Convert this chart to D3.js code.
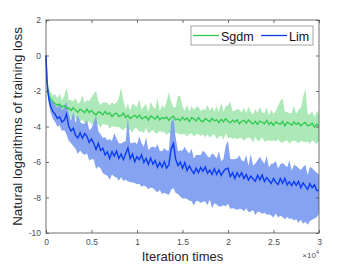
<!DOCTYPE html>
<html>
<head>
<meta charset="utf-8">
<script src="https://cdn.jsdelivr.net/npm/d3@7"></script>
<style>
  body { margin: 0; background: #fff; }
  text { font-family: "Liberation Sans", Arial, sans-serif; }
</style>
</head>
<body>
<div id="chart"></div>
<script>
// iterations (x)
var iters = [0, 100, 200, 300, 500, 750, 1000, 1250, 1500, 1750, 2000, 2250, 2500, 2750, 3000, 3250, 3500, 3750, 4000, 4250,
  4500, 4750, 5000, 5250, 5500, 5750, 6000, 6250, 6500, 6750, 7000, 7250, 7500, 7750, 8000, 8250, 8500, 8750, 9000, 9250,
  9500, 9750, 10000, 10250, 10500, 10750, 11000, 11250, 11500, 11750, 12000, 12250, 12500, 12750, 13000, 13250, 13500, 13750, 14000, 14250,
  14500, 14750, 15000, 15250, 15500, 15750, 16000, 16250, 16500, 16750, 17000, 17250, 17500, 17750, 18000, 18250, 18500, 18750, 19000, 19250,
  19500, 19750, 20000, 20250, 20500, 20750, 21000, 21250, 21500, 21750, 22000, 22250, 22500, 22750, 23000, 23250, 23500, 23750, 24000, 24250,
  24500, 24750, 25000, 25250, 25500, 25750, 26000, 26250, 26500, 26750, 27000, 27250, 27500, 27750, 28000, 28250, 28500, 28750, 29000, 29250,
  29500, 29750, 30000];

// Sgdm: mean and shaded band
var sgdmMean = [0, -1.2, -1.85, -2.2, -2.45, -2.6, -2.72, -2.8, -2.74, -2.92, -2.82, -2.98,
  -2.96, -3.10, -2.94, -3.09, -3.20, -3.02, -3.11, -3.23, -3.02, -3.21, -3.09, -3.25, -3.35, -3.17, -3.22, -3.34, -3.15, -3.32,
  -3.22, -3.44, -3.30, -3.24, -3.43, -3.39, -3.25, -3.50, -3.37, -3.55, -3.45, -3.37, -3.51, -3.36, -3.56, -3.51, -3.43, -3.64, -3.40, -3.49,
  -3.58, -3.40, -3.63, -3.49, -3.56, -3.46, -3.66, -3.50, -3.42, -3.63, -3.56, -3.68, -3.48, -3.62, -3.52, -3.72, -3.50, -3.57, -3.69, -3.49,
  -3.67, -3.73, -3.56, -3.63, -3.73, -3.54, -3.69, -3.61, -3.79, -3.59, -3.74, -3.55, -3.71, -3.80, -3.64, -3.75, -3.62, -3.85, -3.70, -3.65,
  -3.81, -3.63, -3.76, -3.85, -3.71, -3.88, -3.69, -3.76, -3.85, -3.66, -3.88, -3.76, -3.93, -3.74, -3.82, -3.87, -3.72, -3.97, -3.77, -3.82,
  -3.93, -3.74, -3.89, -3.79, -3.97, -3.84, -3.77, -3.96, -3.92, -3.82, -4.04, -3.88, -3.93];
var sgdmHigh = [0, -1.1, -1.65, -1.9, -2.05, -2.25, -2.2, -2.4, -2.15, -2.5, -2.3, -1.8,
  -2.51, -2.50, -2.59, -2.39, -2.70, -2.62, -2.26, -2.68, -2.52, -2.56, -2.34, -2.15, -2.00, -2.57, -2.77, -2.64, -2.65, -2.67,
  -2.82, -2.64, -2.75, -2.64, -2.43, -1.79, -2.55, -3.00, -2.72, -3.10, -2.70, -2.82, -2.91, -2.46, -3.06, -2.86, -2.73, -3.19, -2.60, -2.89,
  -3.03, -2.40, -3.13, -2.79, -2.96, -2.61, -2.06, -2.60, -2.92, -2.93, -2.26, -2.28, -2.88, -3.12, -2.77, -3.17, -2.85, -3.07, -2.89, -2.89,
  -3.12, -3.03, -3.06, -2.78, -3.13, -2.89, -3.19, -2.86, -3.19, -2.64, -3.19, -2.85, -2.81, -2.60, -3.14, -3.10, -3.02, -3.05, -3.20, -2.95,
  -3.26, -2.88, -3.16, -3.35, -3.01, -3.23, -2.89, -3.21, -3.25, -2.91, -3.38, -3.06, -3.28, -3.14, -2.82, -2.57, -2.42, -3.17, -3.17, -3.27,
  -3.23, -2.84, -3.29, -3.04, -2.97, -2.34, -1.87, -3.31, -3.32, -3.12, -3.49, -3.13, -3.33];
var sgdmLow = [0, -1.3, -2.05, -2.5, -2.8, -3.0, -3.12, -3.25, -3.18, -3.4, -3.3, -3.45,
  -3.46, -3.50, -3.59, -3.54, -3.75, -3.72, -3.61, -3.83, -3.77, -3.71, -3.89, -3.80, -3.95, -3.87, -4.07, -3.84, -3.90, -3.92,
  -4.12, -3.99, -4.00, -4.04, -4.03, -4.14, -4.20, -4.05, -4.17, -4.20, -4.35, -4.07, -4.11, -4.31, -4.26, -4.36, -4.08, -4.39, -4.30, -4.19,
  -4.38, -4.40, -4.23, -4.34, -4.31, -4.46, -4.36, -4.40, -4.52, -4.33, -4.41, -4.43, -4.43, -4.42, -4.57, -4.42, -4.40, -4.57, -4.44, -4.44,
  -4.52, -4.43, -4.61, -4.43, -4.63, -4.49, -4.44, -4.71, -4.59, -4.49, -4.74, -4.40, -4.66, -4.60, -4.69, -4.65, -4.72, -4.65, -4.65, -4.80,
  -4.66, -4.63, -4.66, -4.90, -4.56, -4.83, -4.79, -4.61, -4.85, -4.81, -4.78, -4.81, -4.78, -4.84, -4.72, -4.87, -4.92, -4.82, -4.77, -4.97,
  -4.83, -4.79, -4.84, -4.94, -4.82, -4.84, -4.87, -4.86, -4.97, -4.77, -4.89, -4.98, -4.83];

// Lim: mean and shaded band
var limMean = [0, -1.4, -2.0, -2.4, -2.85, -3.15, -3.3, -3.55, -3.45, -3.75, -3.65, -3.3,
  -4.00, -4.25, -4.10, -4.50, -4.65, -4.35, -4.65, -4.40, -4.55, -4.90, -4.70, -4.95, -5.30, -4.95, -5.35, -5.23, -5.60, -5.42,
  -5.80, -5.41, -5.67, -5.38, -5.80, -5.56, -5.87, -5.53, -5.20, -5.82, -5.55, -5.98, -5.70, -5.87, -5.60, -6.03, -5.80, -6.14, -5.78, -6.12,
  -5.91, -6.30, -6.02, -6.30, -5.98, -6.35, -6.15, -5.28, -4.96, -5.84, -6.20, -6.00, -6.35, -6.04, -6.48, -6.22, -6.46, -6.65, -6.35, -6.60,
  -6.31, -6.52, -6.28, -6.63, -6.45, -6.71, -6.37, -6.69, -6.45, -6.76, -6.53, -6.39, -6.35, -6.83, -6.60, -6.93, -6.60, -6.83, -6.60, -6.93,
  -6.70, -7.02, -6.79, -6.96, -7.08, -6.75, -7.01, -6.73, -7.10, -6.87, -7.04, -7.21, -6.93, -7.15, -7.27, -6.93, -7.20, -6.92, -7.29, -7.11,
  -7.33, -7.10, -7.32, -7.09, -7.45, -7.18, -7.36, -7.54, -7.22, -7.45, -7.28, -7.61, -7.60];
var limHigh = [0, -1.25, -1.8, -2.05, -2.4, -2.6, -2.8, -2.95, -2.75, -3.1, -2.95, -2.6,
  -3.30, -3.65, -3.20, -3.80, -3.35, -3.75, -3.85, -3.85, -3.65, -4.20, -4.10, -3.75, -3.40, -4.25, -4.45, -4.63, -4.60, -4.77,
  -4.70, -4.81, -4.37, -4.68, -4.95, -4.96, -4.87, -4.83, -3.50, -4.92, -4.95, -4.88, -5.00, -4.57, -4.95, -5.13, -4.60, -5.34, -5.18, -5.12,
  -5.21, -5.00, -5.37, -5.40, -5.23, -5.35, -5.35, -3.78, -3.51, -4.64, -5.40, -5.35, -5.35, -5.14, -5.38, -5.52, -5.26, -5.80, -5.60, -5.60,
  -5.61, -5.37, -5.48, -5.68, -5.75, -5.51, -5.62, -5.79, -5.40, -5.96, -5.83, -5.09, -4.80, -5.83, -5.85, -5.83, -5.80, -5.63, -5.90, -5.98,
  -5.60, -6.22, -5.54, -6.21, -6.08, -5.90, -5.71, -5.93, -6.10, -5.67, -6.29, -6.11, -6.08, -5.95, -6.37, -6.13, -6.05, -6.17, -6.29, -5.91,
  -6.48, -6.15, -6.22, -6.34, -6.45, -6.28, -6.16, -6.74, -6.27, -6.35, -6.48, -6.61, -6.70];
var limLow = [0, -1.55, -2.25, -2.7, -3.2, -3.55, -3.75, -4.0, -3.95, -4.25, -4.2, -4.45,
  -4.80, -4.95, -5.10, -5.25, -5.55, -5.35, -5.50, -5.60, -5.50, -5.90, -5.85, -5.85, -6.40, -6.25, -6.35, -6.63, -6.70, -6.77,
  -7.00, -6.71, -6.82, -6.88, -7.05, -6.86, -7.07, -6.98, -7.10, -7.12, -7.15, -7.18, -7.25, -7.22, -7.40, -7.33, -7.40, -7.54, -7.43, -7.47,
  -7.61, -7.70, -7.57, -7.80, -7.73, -7.80, -7.85, -7.58, -7.46, -7.74, -7.80, -7.95, -8.05, -8.04, -8.08, -8.17, -8.21, -8.45, -8.20, -8.20,
  -8.31, -8.22, -8.23, -8.43, -8.10, -8.61, -8.32, -8.39, -8.50, -8.51, -8.43, -8.49, -8.35, -8.63, -8.60, -8.63, -8.70, -8.63, -8.65, -8.78,
  -8.60, -8.82, -8.79, -8.71, -8.98, -8.80, -8.81, -8.93, -8.85, -8.97, -8.94, -9.01, -9.13, -8.90, -9.12, -9.03, -9.10, -9.22, -9.09, -9.21,
  -9.18, -9.30, -9.22, -9.44, -9.25, -9.48, -9.36, -9.54, -9.32, -9.25, -9.18, -9.11, -8.90];

var xTicks = [0, 5000, 10000, 15000, 20000, 25000, 30000];
var yTicks = [-10, -8, -6, -4, -2, 0, 2];
var seriesNames = ["Sgdm", "Lim"];

var W = 353, H = 265;
var margin = {top: 20, right: 34, bottom: 32, left: 46},
    width = W - margin.left - margin.right,
    height = H - margin.top - margin.bottom;

var svg = d3.select("#chart")
  .append("svg")
    .attr("width", W)
    .attr("height", H);

var g = svg.append("g")
    .attr("transform", "translate(" + margin.left + "," + margin.top + ")");

var x = d3.scaleLinear().domain([0, 30000]).range([0, width]);
var y = d3.scaleLinear().domain([-10, 2]).range([height, 0]);

var green = "#2ec84f", greenFill = "#ace8b8";
var blue = "#0a3cf5", blueFill = "#7f9ef0";

function rows(mean, lo, hi) {
  return iters.map(function(t, i) { return {t: t, m: mean[i], lo: lo[i], hi: hi[i]}; });
}
var sgdm = rows(sgdmMean, sgdmLow, sgdmHigh);
var lim = rows(limMean, limLow, limHigh);

var area = d3.area()
  .x(function(d) { return x(d.t); })
  .y0(function(d) { return y(d.lo); })
  .y1(function(d) { return y(d.hi); });
var line = d3.line()
  .x(function(d) { return x(d.t); })
  .y(function(d) { return y(d.m); });

g.append("path").datum(sgdm).attr("d", area).attr("fill", greenFill);
g.append("path").datum(lim).attr("d", area).attr("fill", blueFill).attr("fill-opacity", 0.95);
g.append("path").datum(sgdm).attr("d", line).attr("fill", "none").attr("stroke", green).attr("stroke-width", 1.3);
g.append("path").datum(lim).attr("d", line).attr("fill", "none").attr("stroke", blue).attr("stroke-width", 1.4);

// axes, ticks pointing inward
var axisColor = "#4d4d4d";
function styleAxis(sel) {
  sel.select(".domain").remove();
  sel.selectAll("line").attr("stroke", axisColor).attr("stroke-width", 0.8);
  sel.selectAll("text").attr("fill", "#4d4d4d").style("font-size", "8.5px");
}

g.append("g")
  .attr("transform", "translate(0," + height + ")")
  .call(d3.axisBottom(x).tickValues(xTicks).tickSizeInner(-3).tickSizeOuter(0).tickPadding(6)
    .tickFormat(function(d) { return String(d / 10000); }))
  .call(styleAxis);
g.append("g")
  .call(d3.axisTop(x).tickValues(xTicks).tickSizeInner(-3).tickSizeOuter(0).tickFormat(""))
  .call(styleAxis);
g.append("g")
  .call(d3.axisLeft(y).tickValues(yTicks).tickSizeInner(-3).tickSizeOuter(0).tickPadding(5)
    .tickFormat(function(d) { return String(d); }))
  .call(styleAxis);
g.append("g")
  .attr("transform", "translate(" + width + ",0)")
  .call(d3.axisRight(y).tickValues(yTicks).tickSizeInner(-3).tickSizeOuter(0).tickFormat(""))
  .call(styleAxis);

g.append("rect")
  .attr("width", width).attr("height", height)
  .attr("fill", "none").attr("stroke", axisColor).attr("stroke-width", 0.8);

// labels
svg.append("text")
  .attr("transform", "translate(22," + (margin.top + height / 2) + ")rotate(-90)")
  .attr("text-anchor", "middle")
  .attr("fill", "#262626")
  .style("font-size", "13.4px")
  .text("Natural logarithms of training loss");

svg.append("text")
  .attr("x", margin.left + width / 2)
  .attr("y", 261)
  .attr("text-anchor", "middle")
  .attr("fill", "#262626")
  .style("font-size", "13px")
  .text("Iteration times");

var exp = svg.append("text")
  .attr("x", margin.left + width)
  .attr("y", 258)
  .attr("text-anchor", "end")
  .attr("fill", "#4d4d4d")
  .style("font-size", "8px");
exp.append("tspan").text("\u00d710");
exp.append("tspan").attr("dy", -4).style("font-size", "5.5px").text("4");

// legend
var leg = svg.append("g").attr("transform", "translate(191,26)");
leg.append("rect")
  .attr("width", 122).attr("height", 19)
  .attr("fill", "#fff").attr("stroke", "#8c8c8c").attr("stroke-width", 0.8);
var legItems = [{name: seriesNames[0], c: green, x0: 2}, {name: seriesNames[1], c: blue, x0: 70}];
legItems.forEach(function(d) {
  leg.append("line")
    .attr("x1", d.x0).attr("x2", d.x0 + 26).attr("y1", 9.5).attr("y2", 9.5)
    .attr("stroke", d.c).attr("stroke-width", 1.3);
  leg.append("text")
    .attr("x", d.x0 + 28).attr("y", 14.5)
    .attr("fill", "#111")
    .style("font-size", "12.5px")
    .text(d.name);
});
</script>
</body>
</html>
